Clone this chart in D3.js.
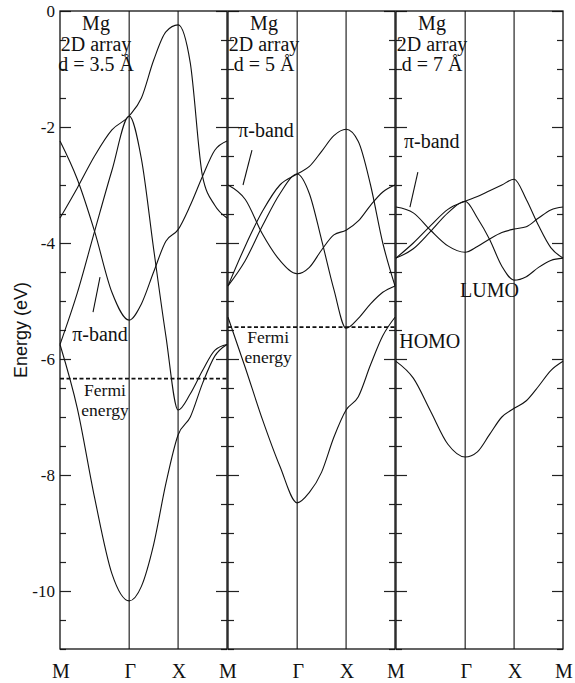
<!DOCTYPE html>
<html>
<head>
<meta charset="utf-8">
<script src="https://cdn.jsdelivr.net/npm/d3@7"></script>
<style>
  body { margin: 0; background: #fff; }
  text { font-family: "Liberation Serif", "Times New Roman", serif; }
</style>
</head>
<body>
<div id="vis-container"></div>
<script>
// k-path M - Γ - X - M (square lattice, M-Γ = sqrt(2))
const kNames = ["M", "Γ", "X", "M"];
const kPoints = [0, 1.414, 2.414, 3.414];
const kSamples = [0, 0.354, 0.707, 1.061, 1.414, 1.664, 1.914, 2.164, 2.414, 2.664, 2.914, 3.164, 3.414];

// bands, energies in eV at kSamples
const bandsD35 = [
  [-5.75, -6.85, -8.39, -9.7, -10.17, -9.92, -9.2, -8.15, -7.31, -7.0, -6.42, -5.95, -5.75],
  [-5.75, -4.86, -3.8, -2.75, -1.81, -2.55, -4.1, -5.6, -6.88, -6.6, -6.2, -5.85, -5.75],
  [-3.57, -3.05, -2.5, -2.05, -1.81, -1.5, -0.85, -0.36, -0.24, -0.9, -2.85, -3.35, -3.57],
  [-2.24, -2.9, -3.8, -4.85, -5.33, -5.05, -4.5, -3.97, -3.77, -3.35, -2.85, -2.4, -2.24]
];
const bandsD5 = [
  [-5.28, -6.15, -7.05, -7.85, -8.48, -8.3, -7.95, -7.35, -6.88, -6.65, -6.1, -5.6, -5.28],
  [-4.74, -4.05, -3.45, -3.0, -2.81, -2.68, -2.42, -2.15, -2.04, -2.25, -3.0, -4.0, -4.74],
  [-4.74, -4.3, -3.7, -3.15, -2.81, -3.15, -3.95, -4.8, -5.47, -5.3, -5.05, -4.85, -4.74],
  [-3.0, -3.25, -3.85, -4.3, -4.53, -4.42, -4.12, -3.86, -3.78, -3.62, -3.35, -3.12, -3.0]
];
const bandsD7 = [
  [-6.04, -6.33, -6.9, -7.47, -7.69, -7.6, -7.3, -7.0, -6.85, -6.72, -6.47, -6.2, -6.04],
  [-4.26, -4.0, -3.7, -3.42, -3.28, -3.2, -3.1, -3.0, -2.9, -3.25, -3.7, -4.08, -4.26],
  [-4.26, -4.1, -3.8, -3.48, -3.28, -3.57, -3.94, -4.4, -4.64, -4.58, -4.42, -4.3, -4.26],
  [-3.38, -3.48, -3.78, -4.05, -4.16, -4.06, -3.93, -3.82, -3.76, -3.72, -3.57, -3.43, -3.38]
];

const fermiLevels = [-6.34, -5.45, null];
const spacings = ["d = 3.5 Å", "d = 5 Å", "d = 7 Å"];
const yLabels = [0, -2, -4, -6, -8, -10];

const width = 575;
const height = 683;
const margin = { top: 11, bottom: 34, left: 60 };
const panelW = 167;
const panelStep = 168;

const svg = d3.select("#vis-container")
  .append("svg")
  .attr("width", width)
  .attr("height", height);

const y = d3.scaleLinear()
  .domain([-11, 0])
  .range([height - margin.bottom, margin.top]);

const line = (x) => d3.line()
  .x((d, j) => x(kSamples[j]))
  .y((d) => y(d))
  .curve(d3.curveMonotoneX);

const allBands = [bandsD35, bandsD5, bandsD7];

// multi-line text block as one <text> with tspans
function block(sel, xPos, yPos, lines, dy, size = 20) {
  const t = sel.append("text")
    .attr("x", xPos).attr("y", yPos)
    .attr("text-anchor", "middle")
    .attr("font-size", size + "px")
    .attr("fill", "#111");
  lines.forEach((l, j) => {
    t.append("tspan")
      .attr("x", xPos)
      .attr("dy", j === 0 ? 0 : dy)
      .text(l);
  });
}

allBands.forEach((bands, i) => {
  const x0 = margin.left + i * panelStep;
  const x = d3.scaleLinear().domain([0, 3.414]).range([x0, x0 + panelW]);
  const g = svg.append("g");

  // Γ and X verticals
  g.selectAll(".kline")
    .data(kPoints.slice(1, 3))
    .enter()
    .append("line")
    .attr("x1", (d) => x(d)).attr("x2", (d) => x(d))
    .attr("y1", y(0)).attr("y2", y(-11))
    .attr("stroke", "#111")
    .attr("stroke-width", 1.1);

  // ticks: left edge and right edge, both pointing in
  const minor = d3.range(-11, 0.01, 0.5).filter((v) => Math.abs(v % 2) > 0.01);
  const major = d3.range(-10, 0.01, 2);
  [[d3.axisRight, x0], [d3.axisLeft, x0 + panelW]].forEach(([ax, pos]) => {
    g.append("g")
      .attr("transform", `translate(${pos},0)`)
      .call(ax(y).tickValues(minor).tickSize(6).tickFormat(""))
      .call((s) => s.select(".domain").remove());
    g.append("g")
      .attr("transform", `translate(${pos},0)`)
      .call(ax(y).tickValues(major).tickSize(11).tickFormat(""))
      .call((s) => s.select(".domain").remove());
  });
  g.selectAll(".tick line").attr("stroke", "#222").attr("stroke-width", 1.2);

  // frame
  g.append("rect")
    .attr("x", x0).attr("y", y(0))
    .attr("width", panelW).attr("height", y(-11) - y(0))
    .attr("fill", "none")
    .attr("stroke", "#111")
    .attr("stroke-width", 1.3);

  // bands
  g.selectAll(".band")
    .data(bands)
    .enter()
    .append("path")
    .attr("class", "band")
    .attr("d", line(x))
    .attr("fill", "none")
    .attr("stroke", "#111")
    .attr("stroke-width", 1.1);

  // Fermi level
  if (fermiLevels[i] !== null) {
    g.append("line")
      .attr("x1", x(0)).attr("x2", x(3.414))
      .attr("y1", y(fermiLevels[i])).attr("y2", y(fermiLevels[i]))
      .attr("stroke", "#111")
      .attr("stroke-width", 1.7)
      .attr("stroke-dasharray", "4,2.5");
  }

  // title block
  block(g, x(0.736), y(-0.33), ["Mg", "2D array", spacings[i]], 20.5);

  // k labels under the panel
  kNames.forEach((n, j) => {
    if (i > 0 && j === 0) return;
    svg.append("text")
      .attr("x", x(kPoints[j]) + 1)
      .attr("y", 678)
      .attr("text-anchor", "middle")
      .attr("font-size", "20px")
      .attr("fill", "#111")
      .text(n);
  });
});

// panel annotations, placed in data coordinates of each panel
const px = (i, k) => margin.left + i * panelStep + k * panelW / 3.414;

function pointer(i, k1, e1, k2, e2) {
  svg.append("line")
    .attr("x1", px(i, k1)).attr("y1", y(e1))
    .attr("x2", px(i, k2)).attr("y2", y(e2))
    .attr("stroke", "#111")
    .attr("stroke-width", 1.1);
}

block(svg, px(0, 0.818), y(-5.69), ["π-band"], 0);
pointer(0, 0.818, -4.59, 0.675, -5.19);
block(svg, px(0, 0.92), y(-6.63), ["Fermi", "energy"], 20, 17.5);

block(svg, px(1, 0.777), y(-2.17), ["π-band"], 0);
pointer(1, 0.49, -2.40, 0.307, -3.0);
block(svg, px(1, 0.82), y(-5.73), ["Fermi", "energy"], 20, 17.5);

block(svg, px(2, 0.73), y(-2.36), ["π-band"], 0);
pointer(2, 0.447, -2.78, 0.285, -3.38);
block(svg, px(2, 0.69), y(-5.81), ["HOMO"], 0);
block(svg, px(2, 1.91), y(-4.93), ["LUMO"], 0);

// y tick labels on the first panel
svg.append("g")
  .attr("transform", `translate(${margin.left},0)`)
  .call(d3.axisLeft(y).tickValues(yLabels).tickSize(0).tickPadding(5).tickFormat((d) => String(d)))
  .call((s) => s.select(".domain").remove())
  .selectAll("text")
  .attr("font-size", "17px")
  .attr("font-family", "Liberation Serif, serif")
  .attr("fill", "#111");

// y axis title
svg.append("text")
  .attr("transform", `translate(27,${y(-5.5)}) rotate(-90)`)
  .attr("text-anchor", "middle")
  .attr("font-size", "18px")
  .attr("fill", "#111")
  .style("font-family", "Liberation Sans, Arial, sans-serif")
  .text("Energy (eV)");
</script>
</body>
</html>
